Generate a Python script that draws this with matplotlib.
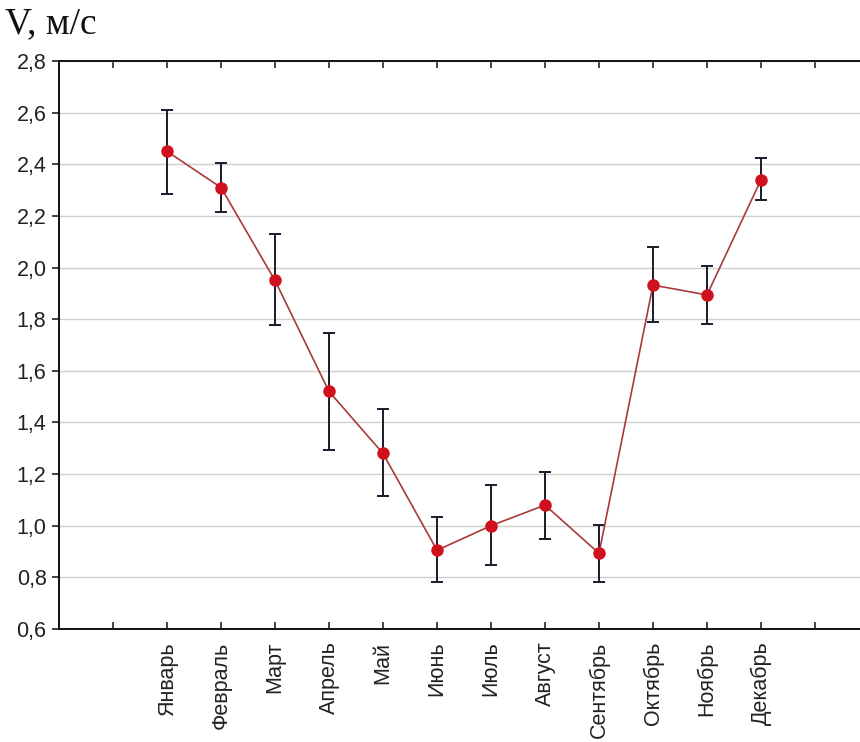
import matplotlib
matplotlib.use("Agg")
import numpy as np
import matplotlib.pyplot as plt

months = ["Январь", "Февраль", "Март", "Апрель", "Май", "Июнь",
          "Июль", "Август", "Сентябрь", "Октябрь", "Ноябрь", "Декабрь"]
speed = [2.45, 2.31, 1.95, 1.52, 1.28, 0.905, 1.0, 1.08, 0.893, 1.932, 1.894, 2.34]
err_hi = [2.61, 2.405, 2.128, 1.747, 1.452, 1.034, 1.156, 1.21, 1.003, 2.08, 2.007, 2.424]
err_lo = [2.285, 2.217, 1.778, 1.293, 1.115, 0.782, 0.848, 0.949, 0.782, 1.789, 1.781, 2.262]
yticks = [0.6, 0.8, 1.0, 1.2, 1.4, 1.6, 1.8, 2.0, 2.2, 2.4, 2.6, 2.8]

plt.rcParams["font.family"] = ["Liberation Sans", "DejaVu Sans"]

fig = plt.figure(figsize=(8.6, 7.42), dpi=100)
ax = fig.add_axes([59 / 860, 1 - 629 / 742, 801 / 860, 568 / 742])

x = np.arange(1, len(months) + 1)
speed = np.array(speed)
yerr = [speed - np.array(err_lo), np.array(err_hi) - speed]

ax.errorbar(x, speed, yerr=yerr, fmt="none", ecolor="#1a1a2a", elinewidth=1.4,
            capsize=4.5, capthick=1.4, zorder=3)
ax.plot(x, speed, color="#a83a3a", lw=1.2, zorder=4)
ax.plot(x, speed, "o", color="#d0101c", ms=8, zorder=5)

ax.set_ylim(0.6, 2.8)
ax.set_xlim(-1, -1 + 801 / 54)
ax.set_yticks(yticks, labels=[f"{v:.1f}".replace(".", ",") for v in yticks])
ax.set_xticks(range(0, 14))
ax.set_xticklabels([""] + months + [""], rotation=90)
ax.tick_params(axis="x", direction="in", top=True, length=5, width=1.2,
               labelsize=15.5, pad=9, colors="#222222")
ax.tick_params(axis="y", direction="out", length=5, width=1.2,
               labelsize=15.5, pad=4, colors="#222222")
ax.grid(axis="y", color="#d0d0d0", lw=1.0)
ax.set_axisbelow(True)
for s in ["left", "bottom", "top"]:
    ax.spines[s].set_linewidth(1.4)
    ax.spines[s].set_color("#111111")
ax.spines["right"].set_visible(False)

fig.text(5 / 860, 1 - 33 / 742, "V, м/с", family=["Liberation Serif", "DejaVu Serif"],
         fontsize=27, color="#111111")

fig.savefig("out.png", dpi=100)
